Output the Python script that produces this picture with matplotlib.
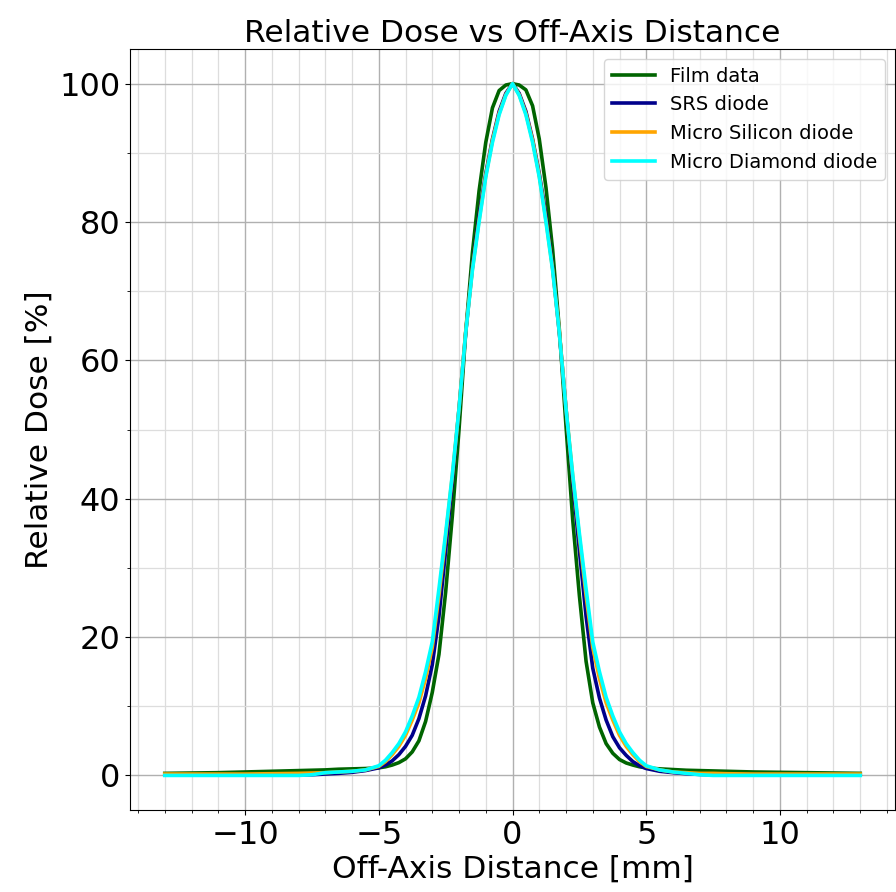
import matplotlib
matplotlib.use("Agg")
import matplotlib.pyplot as plt
from matplotlib.ticker import MultipleLocator

# off-axis positions [mm]
x_mm = [-13, -12, -11, -10, -9, -8, -7.5, -7, -6.5, -6, -5.5,
        -5, -4.75, -4.5, -4.25, -4, -3.75, -3.5, -3.25, -3, -2.75, -2.5, -2.25,
        -2, -1.75, -1.5, -1.25, -1, -0.75, -0.5, -0.25, 0,
        0.25, 0.5, 0.75, 1, 1.25, 1.5, 1.75, 2, 2.25, 2.5, 2.75,
        3, 3.25, 3.5, 3.75, 4, 4.25, 4.5, 4.75, 5,
        5.5, 6, 6.5, 7, 7.5, 8, 9, 10, 11, 12, 13]

# relative dose [%]
film = [0.3, 0.35, 0.4, 0.5, 0.6, 0.7, 0.75, 0.8, 0.9, 0.95, 1.0,
        1.1, 1.25, 1.5, 1.85, 2.4, 3.4, 5.0, 7.8, 12.0, 17.5, 26.5, 37.5,
        50.0, 64.0, 75.5, 84.5, 91.5, 96.5, 99.0, 99.8, 100.0,
        99.8, 99.1, 96.8, 92.0, 85.0, 76.0, 64.5, 50.5, 37.0, 26.0, 16.5,
        10.5, 7.0, 4.6, 3.2, 2.3, 1.8, 1.5, 1.25, 1.1,
        0.95, 0.85, 0.75, 0.7, 0.65, 0.6, 0.5, 0.45, 0.4, 0.35, 0.3]

srs = [0.1, 0.1, 0.1, 0.1, 0.1, 0.1, 0.1, 0.2, 0.3, 0.45, 0.7,
       1.1, 1.5, 2.1, 3.0, 4.2, 5.8, 8.2, 11.5, 16.0, 23.0, 32.5, 42.5,
       53.0, 64.0, 73.5, 81.0, 87.0, 92.0, 96.0, 98.6, 100.0,
       98.6, 96.0, 92.0, 87.0, 81.0, 73.5, 64.0, 53.0, 42.5, 32.5, 23.0,
       15.5, 11.2, 8.0, 5.6, 4.0, 2.9, 2.0, 1.4, 1.0,
       0.6, 0.4, 0.25, 0.15, 0.1, 0.1, 0.1, 0.1, 0.1, 0.1, 0.1]

micro_si = [0.2, 0.2, 0.2, 0.2, 0.25, 0.3, 0.35, 0.4, 0.5, 0.6, 0.8,
            1.3, 2.0, 3.0, 4.2, 5.8, 8.0, 10.5, 14.0, 18.5, 26.0, 34.5, 43.3,
            53.0, 64.2, 73.2, 80.3, 86.7, 91.8, 95.7, 98.4, 100.0,
            98.4, 95.7, 91.8, 86.7, 80.3, 73.2, 64.2, 53.0, 43.3, 34.5, 26.0,
            18.5, 14.0, 10.5, 8.0, 5.8, 4.2, 3.0, 2.0, 1.3,
            0.8, 0.5, 0.4, 0.3, 0.3, 0.25, 0.2, 0.2, 0.2, 0.2, 0.2]

micro_diamond = [0.0, 0.0, 0.0, 0.0, 0.0, 0.0, 0.1, 0.4, 0.5, 0.6, 0.8,
                 1.4, 2.2, 3.3, 4.6, 6.3, 8.6, 11.3, 15.0, 19.3, 27.0, 35.0, 43.5,
                 53.0, 64.0, 73.0, 80.0, 86.5, 91.5, 95.5, 98.3, 100.0,
                 98.3, 95.5, 91.5, 86.5, 80.0, 73.0, 64.0, 53.0, 43.5, 35.0, 27.0,
                 19.3, 15.0, 11.3, 8.6, 6.3, 4.6, 3.3, 2.2, 1.4,
                 0.8, 0.5, 0.3, 0.1, 0.0, 0.0, 0.0, 0.0, 0.0, 0.0, 0.0]

fig = plt.figure(figsize=(8.96, 8.92), dpi=100)
ax = fig.add_axes([0.1451, 0.0919, 0.8538, 0.8531])

ax.plot(x_mm, film, color='darkgreen', lw=2.6, label='Film data')
ax.plot(x_mm, srs, color='darkblue', lw=2.6, label='SRS diode')
ax.plot(x_mm, micro_si, color='orange', lw=2.6, label='Micro Silicon diode')
ax.plot(x_mm, micro_diamond, color='cyan', lw=2.6, label='Micro Diamond diode')

ax.set_title('Relative Dose vs Off-Axis Distance', fontsize=22.5, pad=5)
ax.set_xlabel('Off-Axis Distance [mm]', fontsize=22.5, labelpad=3)
ax.set_ylabel('Relative Dose [%]', fontsize=22.5)
ax.tick_params(axis='both', which='major', labelsize=23)

ax.xaxis.set_major_locator(MultipleLocator(5))
ax.xaxis.set_minor_locator(MultipleLocator(1))
ax.yaxis.set_major_locator(MultipleLocator(20))
ax.yaxis.set_minor_locator(MultipleLocator(10))
ax.grid(True, which='major', color='#b0b0b0', linewidth=1.0)
ax.grid(True, which='minor', color='#dddddd', linewidth=0.9)

ax.legend(loc='upper right', fontsize=14, handlelength=2.2)

fig.savefig('out.png', dpi=100)
